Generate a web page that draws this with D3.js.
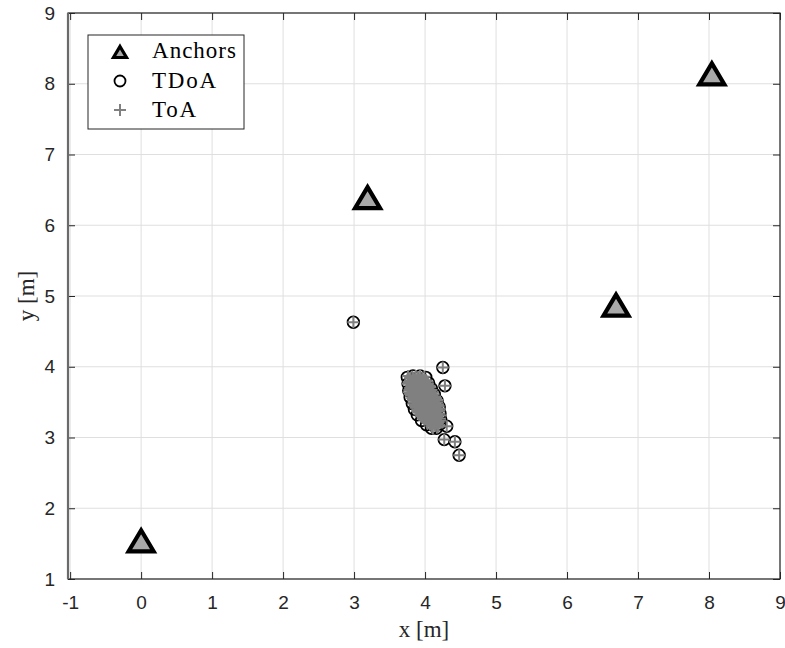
<!DOCTYPE html>
<html>
<head>
<meta charset="utf-8">
<script src="https://cdn.jsdelivr.net/npm/d3@7"></script>
<style>
  html, body { margin: 0; padding: 0; background: #fff; }
  svg { display: block; }
</style>
</head>
<body>
<svg id="chart" width="785" height="648"></svg>
<script>
// Anchor positions [x, y] in metres
const anchors = [[0.00, 1.54], [3.19, 6.39], [6.69, 4.87], [8.04, 8.14]];

// TDoA position estimates [x, y]
const tdoa = [
  [3.75, 3.85], [3.83, 3.87], [3.93, 3.87], [4.01, 3.85],
  [3.76, 3.76], [3.77, 3.66], [3.79, 3.57], [3.82, 3.48], [3.85, 3.40],
  [3.89, 3.32], [3.95, 3.24], [4.02, 3.18], [4.09, 3.13], [4.16, 3.13],
  [4.05, 3.77], [4.09, 3.69], [4.13, 3.61], [4.17, 3.52], [4.20, 3.43],
  [4.21, 3.34], [4.22, 3.26], [4.21, 3.19],
  [3.88, 3.75], [3.95, 3.66], [4.00, 3.55], [4.05, 3.45], [4.10, 3.35],
  [3.92, 3.52], [4.02, 3.70], [4.08, 3.28],
  [2.99, 4.63], [4.25, 3.99], [4.28, 3.73], [4.305, 3.16],
  [4.27, 2.97], [4.42, 2.94], [4.48, 2.75]
];

// ToA position estimates [x, y]
const toa = [
  [3.76, 3.87], [3.82, 3.86], [3.87, 3.87], [3.93, 3.88], [3.99, 3.86],
  [3.79, 3.84], [3.84, 3.84], [3.90, 3.85], [3.96, 3.84],
  [3.79, 3.81], [3.85, 3.82], [3.90, 3.81], [3.96, 3.80], [4.01, 3.81],
  [3.77, 3.785], [3.82, 3.78], [3.88, 3.79], [3.93, 3.785], [3.99, 3.78], [4.03, 3.79],
  [3.76, 3.76], [3.82, 3.75], [3.87, 3.76], [3.93, 3.77], [3.99, 3.75], [4.04, 3.76],
  [3.80, 3.73], [3.85, 3.73], [3.91, 3.72], [3.97, 3.73], [4.02, 3.74], [4.06, 3.73],
  [3.79, 3.70], [3.85, 3.71], [3.90, 3.70], [3.96, 3.69], [4.01, 3.70], [4.07, 3.71],
  [3.78, 3.67], [3.82, 3.67], [3.88, 3.68], [3.93, 3.67], [3.99, 3.66], [4.04, 3.67], [4.09, 3.67],
  [3.77, 3.64], [3.83, 3.65], [3.89, 3.64], [3.94, 3.63], [4.00, 3.64], [4.06, 3.65], [4.11, 3.64],
  [3.79, 3.615], [3.85, 3.61], [3.90, 3.62], [3.96, 3.615], [4.02, 3.61], [4.07, 3.62], [4.12, 3.61],
  [3.80, 3.59], [3.86, 3.58], [3.92, 3.59], [3.97, 3.60], [4.03, 3.58], [4.08, 3.59], [4.14, 3.58],
  [3.82, 3.56], [3.87, 3.55], [3.93, 3.56], [3.99, 3.565], [4.04, 3.56], [4.10, 3.555], [4.15, 3.56],
  [3.83, 3.53], [3.89, 3.54], [3.94, 3.53], [4.00, 3.52], [4.06, 3.53], [4.11, 3.54], [4.17, 3.53],
  [3.84, 3.50], [3.90, 3.505], [3.95, 3.50], [4.01, 3.49], [4.07, 3.50], [4.12, 3.505], [4.17, 3.50],
  [3.85, 3.47], [3.90, 3.48], [3.96, 3.47], [4.01, 3.46], [4.07, 3.47], [4.13, 3.48], [4.18, 3.47],
  [3.86, 3.445], [3.92, 3.44], [3.97, 3.45], [4.03, 3.445], [4.09, 3.44], [4.14, 3.45], [4.19, 3.445],
  [3.87, 3.42], [3.93, 3.41], [3.99, 3.42], [4.04, 3.43], [4.10, 3.41], [4.15, 3.42], [4.20, 3.41],
  [3.89, 3.39], [3.94, 3.385], [4.00, 3.39], [4.06, 3.395], [4.11, 3.385], [4.17, 3.39], [4.20, 3.385],
  [3.90, 3.36], [3.96, 3.37], [4.01, 3.36], [4.07, 3.35], [4.13, 3.36], [4.18, 3.37],
  [3.92, 3.33], [3.98, 3.335], [4.04, 3.33], [4.09, 3.325], [4.15, 3.33], [4.20, 3.335],
  [3.94, 3.30], [4.00, 3.31], [4.06, 3.30], [4.11, 3.29], [4.17, 3.30], [4.22, 3.31],
  [3.97, 3.275], [4.02, 3.27], [4.08, 3.28], [4.13, 3.275], [4.19, 3.27],
  [3.99, 3.25], [4.04, 3.24], [4.10, 3.25], [4.15, 3.26], [4.21, 3.24],
  [4.03, 3.22], [4.08, 3.215], [4.14, 3.22], [4.19, 3.22],
  [4.07, 3.19], [4.13, 3.20], [4.18, 3.19],
  [4.09, 3.16], [4.14, 3.165], [4.19, 3.16],
  [4.11, 3.13], [4.17, 3.14],
  [2.99, 4.63], [4.25, 3.99], [4.28, 3.73], [4.305, 3.16],
  [4.27, 2.97], [4.42, 2.94], [4.48, 2.75]
];

// Axis ticks
const xTicks = [-1, 0, 1, 2, 3, 4, 5, 6, 7, 8, 9];
const yTicks = [1, 2, 3, 4, 5, 6, 7, 8, 9];

// Legend entries
const legendLabels = ["Anchors", "TDoA", "ToA"];

const svg = d3.select("#chart");
const axisColor = "#262626";
const gridColor = "#dfdfdf";
const sansFont = "'Liberation Sans Narrow', 'Liberation Sans', Arial, Helvetica, sans-serif";
const serifFont = "'Liberation Serif', 'Times New Roman', serif";

const x = d3.scaleLinear().domain([-1.03, 9]).range([68, 780]);
const y = d3.scaleLinear().domain([1, 9]).range([579, 13]);

const [x0, x1] = x.range();
const [y0, y1] = y.range();

// Grid
const grid = svg.append("g").attr("class", "grid");
grid.selectAll("line.gx").data(xTicks).join("line")
  .attr("class", "gx")
  .attr("x1", d => x(d)).attr("x2", d => x(d))
  .attr("y1", y0).attr("y2", y1)
  .attr("stroke", gridColor).attr("stroke-width", 1);
grid.selectAll("line.gy").data(yTicks).join("line")
  .attr("class", "gy")
  .attr("x1", x0).attr("x2", x1)
  .attr("y1", d => y(d)).attr("y2", d => y(d))
  .attr("stroke", gridColor).attr("stroke-width", 1);

// Axes with inward ticks on all four sides
function styleAxis(g) {
  g.select(".domain").remove();
  g.selectAll(".tick line").attr("stroke", axisColor).attr("stroke-width", 1);
  g.selectAll(".tick text")
    .attr("fill", axisColor)
    .style("font-family", sansFont)
    .style("font-size", "19px");
}
const plainNumber = d => String(d);

svg.append("g")
  .attr("transform", `translate(0,${y0})`)
  .call(d3.axisBottom(x).tickValues(xTicks).tickFormat(plainNumber)
    .tickSizeInner(-7).tickSizeOuter(0).tickPadding(17))
  .call(styleAxis);

svg.append("g")
  .attr("transform", `translate(0,${y1})`)
  .call(d3.axisTop(x).tickValues(xTicks).tickFormat("")
    .tickSizeInner(-7).tickSizeOuter(0))
  .call(styleAxis);

svg.append("g")
  .attr("transform", `translate(${x0},0)`)
  .call(d3.axisLeft(y).tickValues(yTicks).tickFormat(plainNumber)
    .tickSizeInner(-7).tickSizeOuter(0).tickPadding(13))
  .call(styleAxis);

svg.append("g")
  .attr("transform", `translate(${x1},0)`)
  .call(d3.axisRight(y).tickValues(yTicks).tickFormat("")
    .tickSizeInner(-7).tickSizeOuter(0))
  .call(styleAxis);

// Frame
svg.append("rect")
  .attr("x", x0).attr("y", y1)
  .attr("width", x1 - x0).attr("height", y0 - y1)
  .attr("fill", "none").attr("stroke", axisColor).attr("stroke-width", 1.2);
svg.append("line")
  .attr("x1", x0).attr("x2", x0).attr("y1", y1).attr("y2", y0)
  .attr("stroke", "#6a6a6a").attr("stroke-width", 2.2);

// Axis labels
svg.append("text")
  .attr("x", (x0 + x1) / 2).attr("y", 637)
  .attr("text-anchor", "middle")
  .attr("fill", axisColor)
  .style("font-family", serifFont).style("font-size", "23px")
  .text("x [m]");

svg.append("text")
  .attr("transform", `translate(34,${(y0 + y1) / 2}) rotate(-90)`)
  .attr("text-anchor", "middle")
  .attr("fill", axisColor)
  .style("font-family", serifFont).style("font-size", "23px")
  .text("y [m]");

// Marker shapes
function trianglePath(w, h) {
  return `M0,${-h / 2}L${w / 2},${h / 2}L${-w / 2},${h / 2}Z`;
}
function plusPath(s) {
  return `M${-s},0H${s}M0,${-s}V${s}`;
}

const plot = svg.append("g");

// Anchors
plot.selectAll("path.anchor").data(anchors).join("path")
  .attr("class", "anchor")
  .attr("transform", d => `translate(${x(d[0])},${y(d[1])})`)
  .attr("d", trianglePath(25, 21))
  .attr("fill", "#a9a9a9")
  .attr("stroke", "#000")
  .attr("stroke-width", 4.2)
  .attr("stroke-linejoin", "miter");

// TDoA estimates
plot.selectAll("circle.tdoa").data(tdoa).join("circle")
  .attr("class", "tdoa")
  .attr("cx", d => x(d[0])).attr("cy", d => y(d[1]))
  .attr("r", 5.8)
  .attr("fill", "none")
  .attr("stroke", "#000")
  .attr("stroke-width", 1.8);

// ToA estimates
plot.selectAll("path.toa").data(toa).join("path")
  .attr("class", "toa")
  .attr("transform", d => `translate(${x(d[0])},${y(d[1])})`)
  .attr("d", plusPath(6))
  .attr("fill", "none")
  .attr("stroke", "#808080")
  .attr("stroke-width", 2);

// Legend
const legend = svg.append("g");
legend.append("rect")
  .attr("x", 88).attr("y", 35)
  .attr("width", 156).attr("height", 94)
  .attr("fill", "#fff")
  .attr("stroke", axisColor).attr("stroke-width", 1);

const rowY = [51, 81, 110];
const labelWidths = [84, 64, 44];
const mx = 120;

legend.append("path")
  .attr("transform", `translate(${mx},${rowY[0] + 1})`)
  .attr("d", trianglePath(13, 11))
  .attr("fill", "#a9a9a9").attr("stroke", "#000")
  .attr("stroke-width", 3.2).attr("stroke-linejoin", "miter");

legend.append("circle")
  .attr("cx", mx).attr("cy", rowY[1])
  .attr("r", 5.5)
  .attr("fill", "none").attr("stroke", "#000").attr("stroke-width", 1.8);

legend.append("path")
  .attr("transform", `translate(${mx},${rowY[2]})`)
  .attr("d", plusPath(6))
  .attr("fill", "none").attr("stroke", "#808080").attr("stroke-width", 2);

legend.selectAll("text.lbl").data(legendLabels).join("text")
  .attr("class", "lbl")
  .attr("x", 152)
  .attr("y", (d, i) => rowY[i] + 7)
  .attr("fill", "#000")
  .attr("textLength", (d, i) => labelWidths[i])
  .attr("lengthAdjust", "spacing")
  .style("font-family", serifFont).style("font-size", "23px")
  .text(d => d);
</script>
</body>
</html>
